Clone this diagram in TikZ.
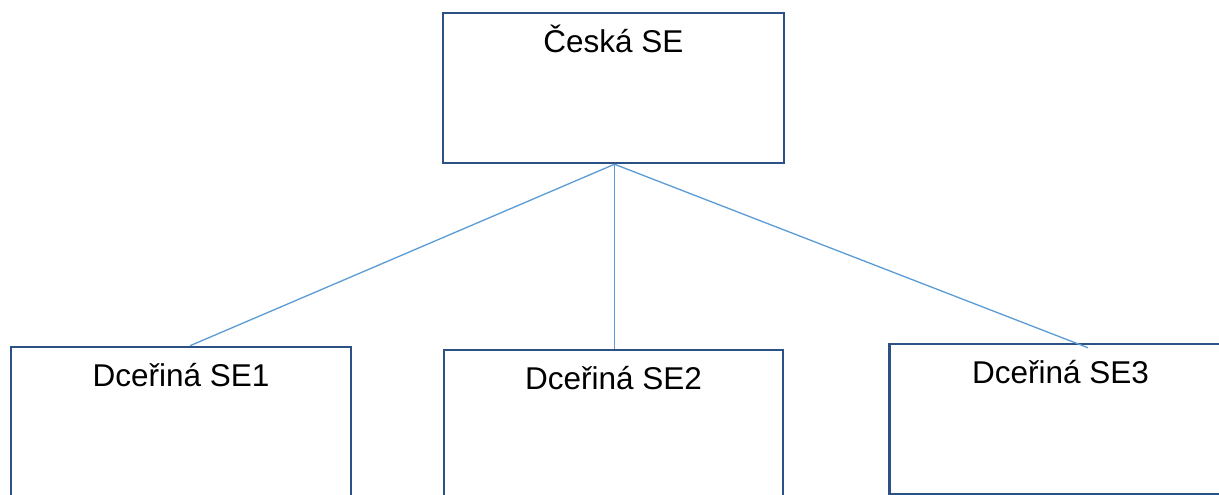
\documentclass[tikz,border=0pt]{standalone}
\usepackage{fontspec}
\setmainfont{Liberation Sans}
\usepackage{tikz}
\usetikzlibrary{positioning}

\definecolor{boxblue}{HTML}{2C5184}
\definecolor{linkblue}{HTML}{5B9BD5}

\tikzset{
  unit/.style = {draw=boxblue, line width=2.5pt, minimum width=340pt, minimum height=150pt, inner sep=0pt},
  unittitle/.style = {anchor=base, inner sep=0pt, font=\fontsize{31.5}{37}\selectfont},
  link/.style = {draw=linkblue, line width=1.3pt}
}

\begin{document}
\begin{tikzpicture}[x=1pt, y=-1pt]
\clip (0,0) rectangle (1219,495);
\useasboundingbox (0,0) rectangle (1219,495);
% parent and daughters
\node[unit, minimum width=341pt](ceska) at (613.5,88){};
\node[unit](sub1) at (181,422){};
\node[unit, minimum width=339pt](sub2) at (613.5,425){};
\node[unit, minimum width=342pt](sub3) at (1060.5,419){};
\node[unittitle](ceskat) at ([yshift=-40.5pt]ceska.north){Česká SE};
\node[unittitle](sub1t) at ([yshift=-40.5pt]sub1.north){Dceřiná SE1};
\node[unittitle](sub2t) at ([yshift=-40.5pt]sub2.north){Dceřiná SE2};
\node[unittitle](sub3t) at ([yshift=-40.5pt]sub3.north){Dceřiná SE3};
% links
\draw[link] ([xshift=1pt]ceska.south) -- ([xshift=9pt]sub1.north);
\draw[link] ([xshift=1pt]ceska.south) -- ([xshift=1pt]sub2.north);
\draw[link] ([xshift=1pt]ceska.south) -- ([xshift=27.5pt,yshift=-5pt]sub3.north);
\end{tikzpicture}
\end{document}
